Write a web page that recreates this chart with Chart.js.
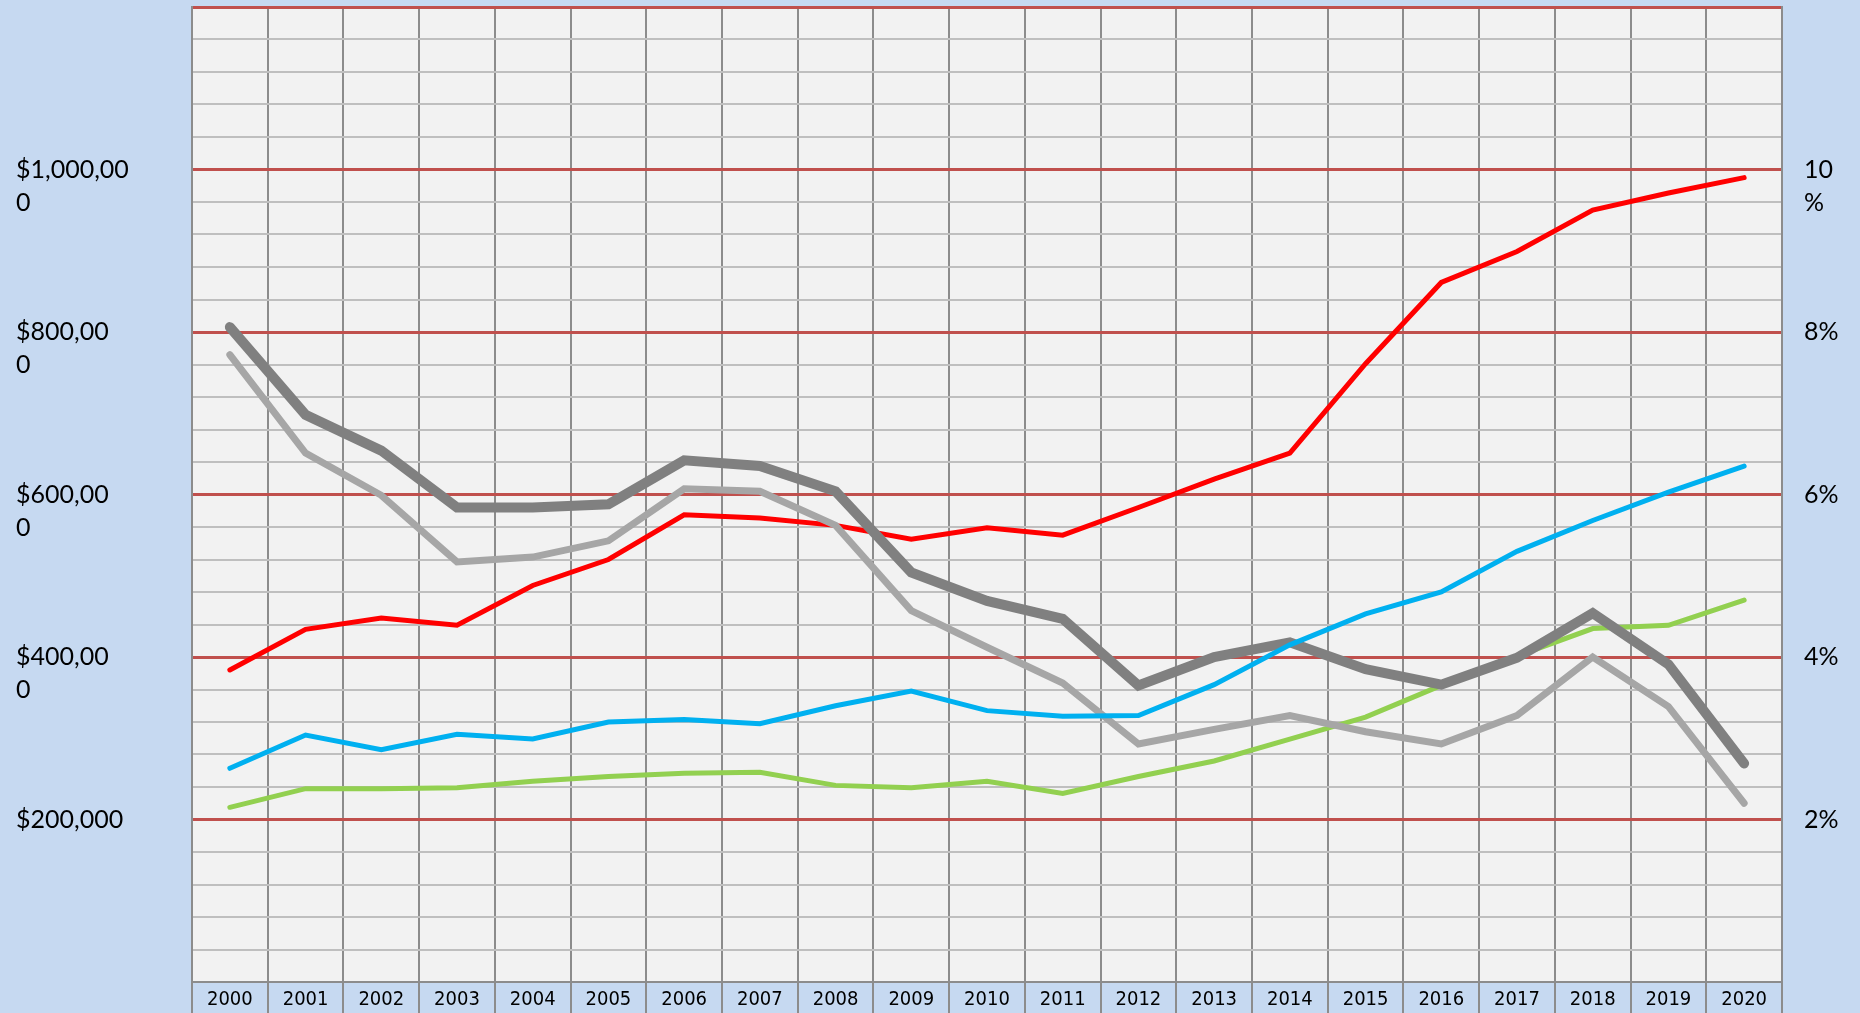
<!DOCTYPE html>
<html>
<head>
<meta charset="utf-8">
<script src="https://cdn.jsdelivr.net/npm/chart.js@4"></script>
<style>
  html, body { margin: 0; padding: 0; background: #C6D9F1; }
  canvas { display: block; }
</style>
</head>
<body>
<canvas id="chart" width="1860" height="1013"></canvas>
<script>
const years = ['2000', '2001', '2002', '2003', '2004', '2005', '2006', '2007', '2008', '2009', '2010',
  '2011', '2012', '2013', '2014', '2015', '2016', '2017', '2018', '2019', '2020'];

// dollar series (left axis)
const redSeries = [384000, 434000, 448000, 439000, 488000, 520000, 575000, 571000, 562000, 545000, 559000,
  550000, 584000, 619000, 651000, 761000, 861000, 899000, 950000, 971000, 990000];
const blueSeries = [263000, 304000, 286000, 305000, 299000, 320000, 323000, 318000, 340000, 358000, 334000,
  327000, 328000, 366000, 415000, 453000, 480000, 530000, 568000, 603000, 635000];
const greenSeries = [215000, 238000, 238000, 239000, 247000, 253000, 257000, 258000, 242000, 239000, 247000,
  232000, 253000, 272000, 299000, 326000, 365000, 401000, 435000, 439000, 470000];

// percent series (right axis)
const darkGraySeries = [8.06, 6.98, 6.54, 5.84, 5.84, 5.88, 6.42, 6.35, 6.04, 5.04, 4.69,
  4.47, 3.65, 4.00, 4.18, 3.85, 3.66, 3.99, 4.54, 3.91, 2.69];
const lightGraySeries = [7.72, 6.51, 5.99, 5.17, 5.23, 5.43, 6.07, 6.04, 5.62, 4.57, 4.12,
  3.68, 2.93, 3.11, 3.28, 3.08, 2.93, 3.28, 4.00, 3.39, 2.20];

const leftTickValues = [200000, 400000, 600000, 800000, 1000000];
const leftTickLabels = [['$200,000'], ['', '$400,00', '0'], ['', '$600,00', '0'], ['', '$800,00', '0'], ['', '$1,000,00', '0']];
const rightTickValues = [2, 4, 6, 8, 10];
const rightTickLabels = [['2%'], ['4%'], ['6%'], ['8%'], ['', '10', '%']];

const plotBackground = {
  id: 'plotBackground',
  beforeDraw(chart) {
    const { ctx, chartArea: a } = chart;
    ctx.save();
    ctx.fillStyle = '#C6D9F1';
    ctx.fillRect(0, 0, chart.width, chart.height);
    ctx.fillStyle = '#F2F2F2';
    ctx.fillRect(a.left, a.top, a.right - a.left, a.bottom - a.top);
    ctx.restore();
  }
};

const tickFont = { family: "Lato, 'Open Sans', sans-serif", size: 25, lineHeight: 1.32 };

function line(data, color, width, axis, order) {
  return {
    data: data,
    borderColor: color,
    borderWidth: width,
    borderCapStyle: 'round',
    pointRadius: 0,
    tension: 0,
    yAxisID: axis,
    order: order
  };
}

new Chart(document.getElementById('chart'), {
  type: 'line',
  data: {
    labels: years,
    datasets: [
      line(redSeries, '#FF0000', 5, 'y', 4),
      line(blueSeries, '#00B0F0', 5, 'y', 1),
      line(greenSeries, '#92D050', 5, 'y', 5),
      line(darkGraySeries, '#808080', 10, 'y2', 2),
      line(lightGraySeries, '#A6A6A6', 7, 'y2', 3)
    ]
  },
  options: {
    responsive: false,
    animation: false,
    layout: { padding: { top: 7, left: 16, right: 0, bottom: 0 } },
    plugins: { legend: { display: false }, tooltip: { enabled: false } },
    scales: {
      x: {
        offset: true,
        grid: { offset: true, color: '#8C8C8C', lineWidth: 2, tickLength: 31 },
        border: { color: '#8C8C8C', width: 2 },
        ticks: {
          color: '#000',
          font: { family: "'Liberation Sans Narrow', 'DejaVu Sans Condensed', sans-serif", size: 20 },
          padding: -25,
          autoSkip: false,
          maxRotation: 0
        },
        afterFit(s) { s.height = 31; s.paddingLeft = 0; s.paddingRight = 0; }
      },
      y: {
        position: 'left',
        min: 0,
        max: 1200000,
        grid: {
          drawTicks: false,
          color: c => (c.tick.value % 200000 === 0 && c.tick.value > 0) ? '#C0504D' : '#BFBFBF',
          lineWidth: c => (c.tick.value % 200000 === 0 && c.tick.value > 0) ? 3 : 2
        },
        border: { color: '#8C8C8C', width: 2 },
        ticks: {
          stepSize: 40000,
          autoSkip: false,
          crossAlign: 'far',
          color: '#000',
          font: tickFont,
          callback: v => {
            const i = leftTickValues.indexOf(v);
            return i >= 0 ? leftTickLabels[i] : '';
          }
        },
        afterFit(s) { s.width = 176; s.paddingTop = 0; s.paddingBottom = 0; }
      },
      y2: {
        position: 'right',
        min: 0,
        max: 12,
        grid: { drawOnChartArea: false, drawTicks: false },
        border: { color: '#8C8C8C', width: 2 },
        ticks: {
          stepSize: 0.4,
          autoSkip: false,
          padding: 22,
          color: '#000',
          font: tickFont,
          callback: v => {
            const i = rightTickValues.findIndex(t => Math.abs(t - v) < 1e-6);
            return i >= 0 ? rightTickLabels[i] : '';
          }
        },
        afterFit(s) { s.width = 78; s.paddingTop = 0; s.paddingBottom = 0; }
      }
    }
  },
  plugins: [plotBackground]
});
</script>
</body>
</html>
